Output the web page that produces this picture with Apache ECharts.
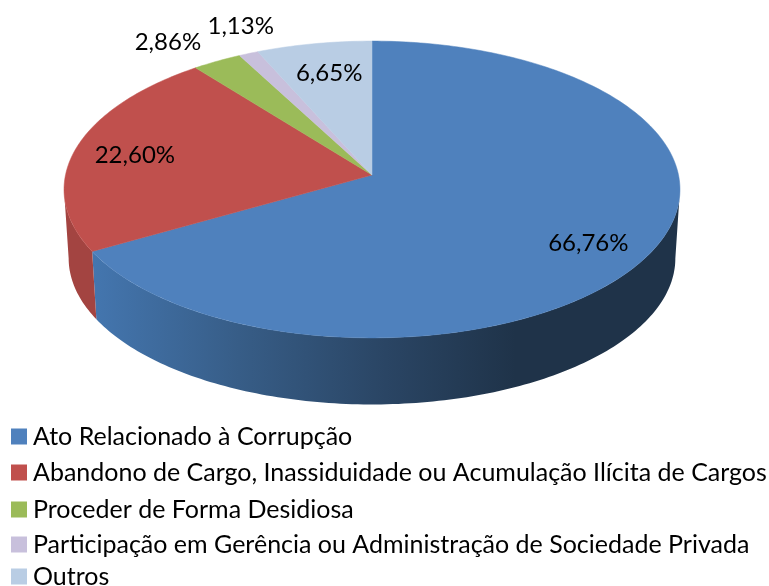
<!DOCTYPE html>
<html>
<head>
<meta charset="utf-8">
<style>
html, body { margin: 0; padding: 0; background: #fff; }
#chart { width: 769px; height: 586px; }
</style>
<script src="https://cdn.jsdelivr.net/npm/echarts@6/dist/echarts.min.js"></script>
</head>
<body>
<div id="chart"></div>
<script>
// data
var categories = [
    'Ato Relacionado à Corrupção',
    'Abandono de Cargo, Inassiduidade ou Acumulação Ilícita de Cargos',
    'Proceder de Forma Desidiosa',
    'Participação em Gerência ou Administração de Sociedade Privada',
    'Outros'
];
var values = [66.76, 22.60, 2.86, 1.13, 6.65];
var colors = ['#4f81bd', '#c0504d', '#9bbb59', '#c8c0dc', '#b9cde4'];

// layout of the tilted pie
var cx = 372, cy = 175;
var scaleX = 306.5, scaleY = 147, tilt = 0.0976;
var depth = 69, bottomScale = 0.985;
var fontFamily = 'Lato, sans-serif';
var labelRadius = [0.785, 0.8, 1.33, 1.07, 0.72];
var labelShift = [[0, 8], [0, 2], [-3, 15], [0, -19], [0, -5]];
var legendTops = [424, 460, 497, 532, 564];

var total = values.reduce(function (a, b) { return a + b; }, 0);

// circle -> screen, perspective seen from the front. angle in degrees, clockwise from 12 o'clock
function project(angle, r, bottom) {
    var rad = angle * Math.PI / 180;
    var u = Math.sin(rad) * r, v = -Math.cos(rad) * r;
    var w = 1 - tilt * v;
    var s = bottom ? bottomScale : 1;
    return [cx + s * scaleX * u / w, cy + (bottom ? depth : 0) + s * scaleY * v / w];
}

function arc(from, to, bottom) {
    var pts = [];
    var n = Math.max(2, Math.ceil(Math.abs(to - from)));
    for (var i = 0; i <= n; i++) {
        pts.push(project(from + (to - from) * i / n, 1, bottom));
    }
    return pts;
}

// silhouette angles of the ellipse, the wall is only seen between them
var wallStart = Math.acos(-tilt) * 180 / Math.PI;
var wallEnd = 360 - wallStart;

var sideFill = [
    new echarts.graphic.LinearGradient(0, 0, 1, 0, [
        { offset: 0, color: '#4476af' },
        { offset: 0.25, color: '#375d87' },
        { offset: 0.5, color: '#2a4564' },
        { offset: 0.72, color: '#1f3349' },
        { offset: 1, color: '#1f3349' }
    ]),
    '#a34441'
];

function startAngle(idx) {
    var sum = 0;
    for (var i = 0; i < idx; i++) sum += values[i];
    return sum / total * 360;
}

function renderSlice(params, api) {
    var idx = params.seriesIndex;
    var value = api.value(0);
    var a0 = startAngle(idx);
    var a1 = a0 + value / total * 360;
    var color = colors[idx];
    var children = [];

    var s0 = Math.max(a0, wallStart), s1 = Math.min(a1, wallEnd);
    if (s1 > s0) {
        var wall = arc(s0, s1, false).concat(arc(s0, s1, true).reverse());
        children.push({
            type: 'polygon',
            shape: { points: wall },
            style: { fill: sideFill[idx] || color }
        });
    }

    children.push({
        type: 'polygon',
        shape: { points: [[cx, cy]].concat(arc(a0, a1, false)) },
        style: { fill: color, stroke: color, lineWidth: 0.5 }
    });

    var p = project((a0 + a1) / 2, labelRadius[idx], false);
    children.push({
        type: 'text',
        style: {
            text: value.toFixed(2).replace('.', ',') + '%',
            x: p[0] + labelShift[idx][0],
            y: p[1] + labelShift[idx][1],
            align: 'center',
            verticalAlign: 'middle',
            fill: '#000',
            font: '24px ' + fontFamily
        }
    });
    return { type: 'group', children: children };
}

var chart = echarts.init(document.getElementById('chart'));
var option = {
    animation: false,
    legend: categories.map(function (name, i) {
        return {
            data: [name],
            left: 11,
            top: legendTops[i],
            orient: 'vertical',
            icon: 'rect',
            itemWidth: 16,
            itemHeight: 16,
            selectedMode: false,
            padding: 0,
            textStyle: { fontFamily: fontFamily, fontSize: 25, color: '#000', padding: [0, 0, 0, 1] }
        };
    }),
    series: categories.map(function (name, i) {
        return {
            name: name,
            type: 'custom',
            coordinateSystem: 'none',
            silent: true,
            itemStyle: { color: colors[i] },
            renderItem: renderSlice,
            data: [[values[i]]]
        };
    })
};
chart.setOption(option);
window.addEventListener('resize', function () {
    chart.resize();
});
</script>
</body>
</html>
